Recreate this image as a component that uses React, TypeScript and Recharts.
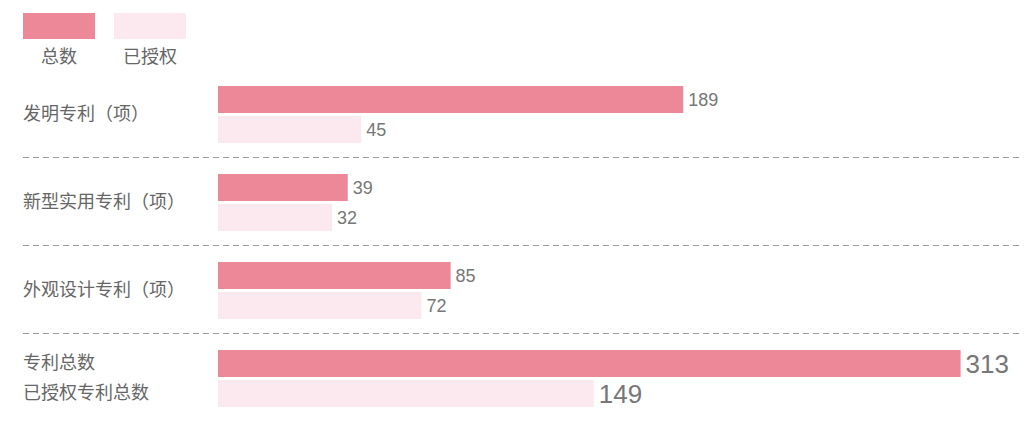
import React from "react"
import { Bar, BarChart, CartesianGrid, LabelList, XAxis, YAxis } from "recharts"

const categories = ["发明专利（项）", "新型实用专利（项）", "外观设计专利（项）", "专利总数\n已授权专利总数"]
const totalValues = [189, 39, 85, 313]
const grantedValues = [45, 32, 72, 149]
const seriesNames = ["总数", "已授权"]
const seriesColors = ["#ed8898", "#fce9ef"]

// the bars in the picture grow from a little below zero
const AXIS_MIN = -19
const AXIS_MAX = 340

const BAR_SIZE = 27
const BAR_GAP = 3
const FONT = '"Liberation Sans", "Noto Sans CJK SC", sans-serif'

const data = categories.map((name, i) => ({
  name,
  total: totalValues[i],
  granted: grantedValues[i],
}))

const CategoryTick = (props: any) => {
  const { y, payload } = props
  const lines = String(payload.value).split("\n")
  const step = BAR_SIZE + BAR_GAP
  return (
    <g>
      {lines.map((t, i) => (
        <text
          key={t}
          x={23}
          y={y + (i - (lines.length - 1) / 2) * step}
          dominantBaseline="central"
          fill="#666"
          fontSize={18}
          fontFamily={FONT}
        >
          {t}
        </text>
      ))}
    </g>
  )
}

const renderValue = (props: any) => {
  const { x, y, width, height, value, index } = props
  const big = index === categories.length - 1
  return (
    <text
      x={Number(x) + Number(width) + 5}
      y={Number(y) + Number(height) / 2}
      dominantBaseline="central"
      fill="#777"
      fontSize={big ? 26 : 18}
      fontFamily={FONT}
    >
      {value}
    </text>
  )
}

// dashed separators sit on the borders between category bands
const bandLines = ({ offset }: any) =>
  categories
    .slice(1)
    .map((_, i) => Math.round(offset.top + ((i + 1) * offset.height) / categories.length) - 0.5)

export default function App() {
  return (
    <div style={{ position: "absolute", left: 0, top: 0, width: 1027, height: 435, fontFamily: FONT }}>
      {seriesNames.map((name, i) => (
        <div
          key={name}
          style={{ position: "absolute", left: 23 + i * 91, top: 13, width: 72, textAlign: "center" }}
        >
          <div style={{ width: 72, height: 26, background: seriesColors[i] }} />
          <div style={{ marginTop: 6, fontSize: 18, color: "#666", lineHeight: "24px" }}>{name}</div>
        </div>
      ))}
      <BarChart
        width={1027}
        height={435}
        data={data}
        layout="vertical"
        barSize={BAR_SIZE}
        barGap={BAR_GAP}
        margin={{ top: 70, right: 6, bottom: 13, left: 0 }}
      >
        <CartesianGrid
          vertical={false}
          x={23}
          width={999}
          stroke="#999"
          strokeDasharray="6 4"
          horizontalCoordinatesGenerator={bandLines}
        />
        <XAxis type="number" hide domain={[AXIS_MIN, AXIS_MAX]} allowDataOverflow />
        <YAxis
          type="category"
          dataKey="name"
          width={218}
          axisLine={false}
          tickLine={false}
          tick={<CategoryTick />}
        />
        <Bar dataKey={(d: any) => [AXIS_MIN, d.total]} fill={seriesColors[0]} isAnimationActive={false}>
          <LabelList dataKey="total" content={renderValue} />
        </Bar>
        <Bar dataKey={(d: any) => [AXIS_MIN, d.granted]} fill={seriesColors[1]} isAnimationActive={false}>
          <LabelList dataKey="granted" content={renderValue} />
        </Bar>
      </BarChart>
    </div>
  )
}
